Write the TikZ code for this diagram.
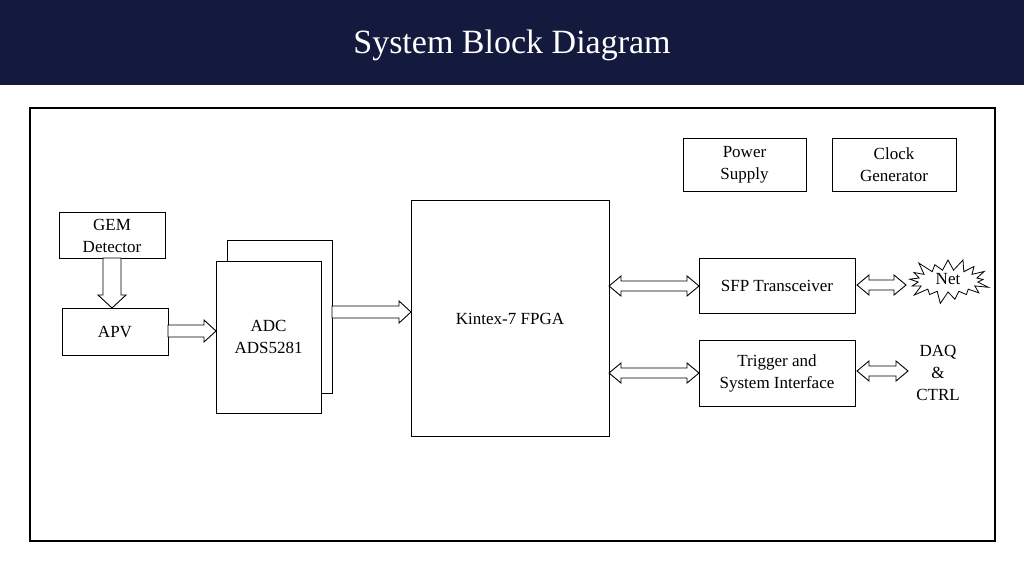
\documentclass[tikz,border=0pt]{standalone}
\usepackage{fontspec}
\setmainfont{Liberation Serif}
\usetikzlibrary{shapes.symbols}
\definecolor{navy}{HTML}{141A3D}
\newcommand{\rarrow}[3]{% x1 x2 y
  \draw[fill=white,line width=0.9pt] (#1,#3-6) -- (#2-12,#3-6) -- (#2-12,#3-11) -- (#2,#3) -- (#2-12,#3+11) -- (#2-12,#3+6) -- (#1,#3+6) -- cycle;}
\newcommand{\darrow}[3]{% x1 x2 y
  \draw[fill=white,line width=0.9pt] (#1,#3) -- (#1+12,#3-10) -- (#1+12,#3-5) -- (#2-12,#3-5) -- (#2-12,#3-10) -- (#2,#3) -- (#2-12,#3+10) -- (#2-12,#3+5) -- (#1+12,#3+5) -- (#1+12,#3+10) -- cycle;}
\begin{document}
\begin{tikzpicture}[x=1pt,y=-1pt,
  box/.style={draw,line width=0.8pt,fill=white,align=center,font=\fontsize{17}{22}\selectfont},
  lbl/.style={align=center,font=\fontsize{17}{22}\selectfont}]
\useasboundingbox (0,0) rectangle (1024,576);
\fill[navy] (0,0) rectangle (1024,85);
\node[text=white,font=\fontsize{34}{40}\selectfont] (title) at (512,45) {System Block Diagram};
\draw[line width=1.8pt] (30,108) rectangle (995,541);
\draw[box] (683,138) rectangle (806,191);
\node[lbl] (ps) at (744.5,165) {Power\\Supply};
\draw[box] (832,138) rectangle (956,191);
\node[lbl] (cg) at (894,165) {Clock\\Generator};
\draw[box] (59,212) rectangle (165,258);
\node[lbl] (gem) at (112,236) {GEM\\Detector};
\draw[box] (62,308) rectangle (168,355);
\node[lbl] (apv) at (115,332) {APV};
\draw[box] (227,240) rectangle (332,393);
\draw[box] (216,261) rectangle (321,413);
\node[lbl] (adc) at (268.5,337) {ADC\\ADS5281};
\draw[box] (411,200) rectangle (609,436);
\node[lbl] (fpga) at (510,319) {Kintex-7 FPGA};
\draw[box] (699,258) rectangle (855,313);
\node[lbl] (sfp) at (777,286) {SFP Transceiver};
\draw[box] (699,340) rectangle (855,406);
\node[lbl] (trig) at (777,373) {Trigger and\\System Interface};
\node[starburst,draw,line width=0.8pt,minimum width=88pt,minimum height=50pt,starburst point height=14pt] (net) at (948,281) {};
\node[lbl] at (948,279) {Net};
\node[lbl] (daq) at (938,373) {DAQ\\\&\\CTRL};
% GEM down arrow
\draw[fill=white,line width=0.9pt] (103,258) -- (121,258) -- (121,295) -- (126,295) -- (112,308) -- (98,295) -- (103,295) -- cycle;
\rarrow{168}{216}{331}
\rarrow{332}{411}{312}
\darrow{609}{699}{286}
\darrow{609}{699}{373}
\darrow{857}{906}{285}
\darrow{857}{908}{371}
\end{tikzpicture}
\end{document}
